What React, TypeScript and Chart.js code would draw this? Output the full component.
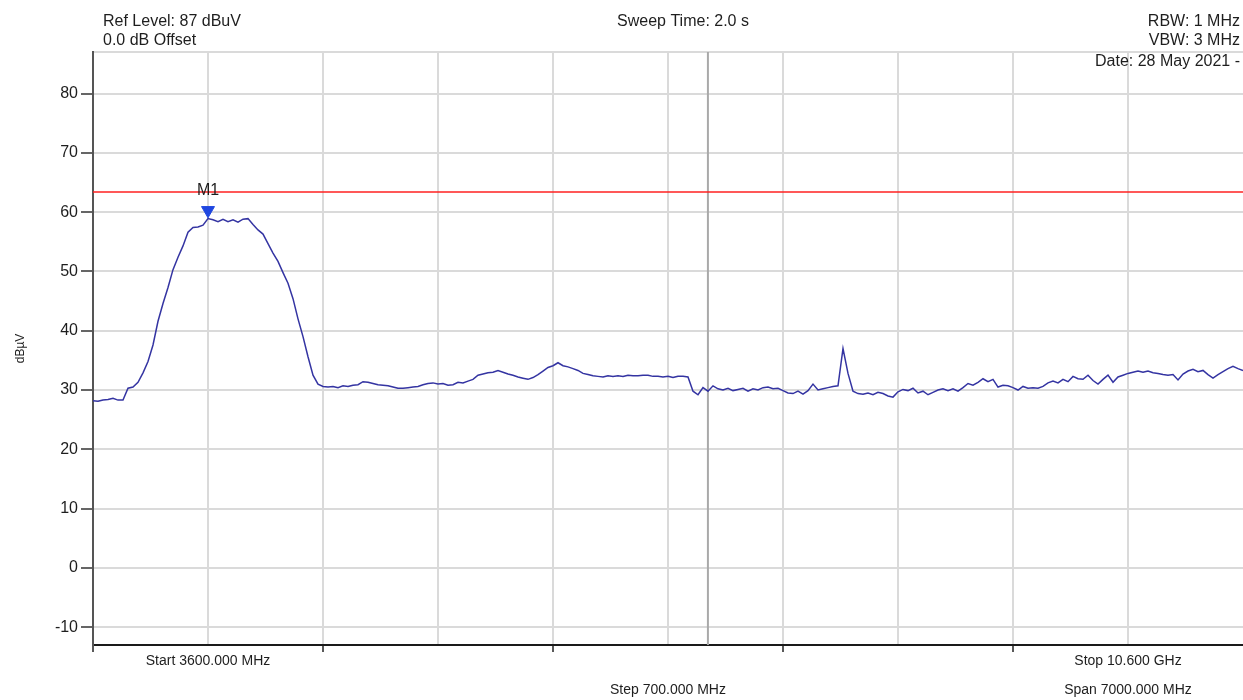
import React, { useEffect, useRef } from 'react';
import { Chart, registerables } from 'chart.js';

Chart.register(...registerables);

// ---- Data ----
const START_MHZ = 3600;
const STOP_MHZ = 10600;
const STEP_MHZ = 700;
const REF_LEVEL = 87;
const BOTTOM_LEVEL = -13;
const Y_TICKS = [80, 70, 60, 50, 40, 30, 20, 10, 0, -10];

// Trace level (dBµV) at evenly spaced sweep points from START to STOP
const TRACE_LEVELS = [
  28.2, 28.1, 28.3, 28.4, 28.6, 28.3, 28.3, 30.3, 30.5, 31.3,
  32.9, 34.8, 37.6, 41.6, 44.6, 47.3, 50.3, 52.4, 54.3, 56.6,
  57.4, 57.5, 57.8, 58.9, 58.7, 58.4, 58.8, 58.4, 58.7, 58.3,
  58.8, 58.9, 57.9, 57.0, 56.3, 54.7, 53.1, 51.7, 49.8, 48.0,
  45.4, 42.0, 39.0, 35.6, 32.5, 31.0, 30.6, 30.5, 30.6, 30.4,
  30.7, 30.6, 30.8, 30.9, 31.4, 31.3, 31.1, 30.9, 30.8, 30.7,
  30.5, 30.3, 30.3, 30.4, 30.5, 30.6, 30.9, 31.1, 31.2, 31.0,
  31.1, 30.8, 30.9, 31.3, 31.2, 31.5, 31.8, 32.5, 32.7, 32.9,
  33.0, 33.3, 33.0, 32.7, 32.5, 32.2, 32.0, 31.8, 32.1, 32.6,
  33.2, 33.8, 34.1, 34.6, 34.1, 33.9, 33.6, 33.3, 32.8, 32.6,
  32.4, 32.3, 32.2, 32.4, 32.3, 32.4, 32.3, 32.5, 32.4, 32.4,
  32.5, 32.5, 32.3, 32.3, 32.2, 32.3, 32.1, 32.3, 32.3, 32.2,
  29.8, 29.2, 30.4, 29.8, 30.7, 30.2, 30.0, 30.3, 29.9, 30.1,
  30.3, 29.8, 30.2, 30.0, 30.4, 30.5, 30.2, 30.3, 29.9, 29.5,
  29.4, 29.8, 29.3, 29.9, 31.0, 30.0, 30.2, 30.4, 30.6, 30.7,
  37.0, 32.8, 29.8, 29.4, 29.3, 29.5, 29.2, 29.6, 29.4, 29.0,
  28.8, 29.7, 30.1, 29.9, 30.3, 29.5, 29.8, 29.2, 29.6, 30.0,
  30.2, 29.9, 30.2, 29.8, 30.4, 31.1, 30.8, 31.3, 31.9, 31.4,
  31.8, 30.5, 30.8, 30.7, 30.4, 30.0, 30.6, 30.3, 30.4, 30.3,
  30.6, 31.2, 31.5, 31.2, 31.8, 31.4, 32.3, 31.9, 31.8, 32.5,
  31.6, 31.0, 31.8, 32.5, 31.3, 32.2, 32.5, 32.8, 33.0, 33.2,
  33.0, 33.2, 32.9, 32.8, 32.6, 32.5, 32.6, 31.7, 32.7, 33.2,
  33.5, 33.1, 33.3, 32.6, 32.0, 32.6, 33.1, 33.6, 34.0, 33.6,
  33.3,
];

const LIMIT_LEVEL = 63.4;
const MARKER_FREQ = 4300;
const MARKER_LEVEL = 60.3;
const MARKER_LABEL = 'M1';
const DISPLAY_LINE_FREQ = 7343;

const HEADER_LEFT = ['Ref Level: 87 dBuV', '0.0 dB Offset'];
const HEADER_CENTER = 'Sweep Time: 2.0 s';
const HEADER_RIGHT = ['RBW: 1 MHz', 'VBW: 3 MHz', 'Date: 28 May 2021 -'];
const FOOTER_ROW1 = ['Start 3600.000 MHz', 'Stop 10.600 GHz'];
const FOOTER_ROW1_FREQ = [4300, 9900];
const FOOTER_ROW2 = ['Step 700.000 MHz', 'Span 7000.000 MHz'];
const FOOTER_ROW2_FREQ = [7100, 9900];
const Y_TITLE = 'dBµV';

const FONT = '"Liberation Sans", Arial, sans-serif';
const CLEAR = 'rgba(0,0,0,0)';

const textPlugin = {
  id: 'analyzerText',
  afterDraw(chart: any) {
    const ctx = chart.ctx;
    const xs = chart.scales.x;
    const ys = chart.scales.y;
    ctx.save();
    ctx.fillStyle = '#1e1e1e';
    ctx.textBaseline = 'middle';
    ctx.font = `16px ${FONT}`;
    ctx.textAlign = 'left';
    ctx.fillText(HEADER_LEFT[0], 103, 22);
    ctx.fillText(HEADER_LEFT[1], 103, 41);
    ctx.textAlign = 'center';
    ctx.fillText(HEADER_CENTER, 683, 22);
    ctx.textAlign = 'right';
    ctx.fillText(HEADER_RIGHT[0], 1240, 22);
    ctx.fillText(HEADER_RIGHT[1], 1240, 41);
    ctx.fillText(HEADER_RIGHT[2], 1240, 62);

    ctx.font = `14px ${FONT}`;
    ctx.textAlign = 'center';
    FOOTER_ROW1.forEach((t, i) => ctx.fillText(t, xs.getPixelForValue(FOOTER_ROW1_FREQ[i]), 661));
    FOOTER_ROW2.forEach((t, i) => ctx.fillText(t, xs.getPixelForValue(FOOTER_ROW2_FREQ[i]), 690));

    ctx.font = `16px ${FONT}`;
    ctx.fillText(MARKER_LABEL, xs.getPixelForValue(MARKER_FREQ), ys.getPixelForValue(MARKER_LEVEL) - 20);
    ctx.restore();
  },
};

export default function App() {
  const ref = useRef<HTMLCanvasElement | null>(null);

  useEffect(() => {
    document.body.style.margin = '0';
    const n = TRACE_LEVELS.length;
    const trace = TRACE_LEVELS.map((v, i) => ({
      x: START_MHZ + (i * (STOP_MHZ - START_MHZ)) / (n - 1),
      y: v,
    }));
    const chart = new Chart(ref.current as HTMLCanvasElement, {
      type: 'line',
      data: {
        datasets: [
          {
            data: [
              { x: DISPLAY_LINE_FREQ, y: BOTTOM_LEVEL },
              { x: DISPLAY_LINE_FREQ, y: REF_LEVEL },
            ],
            borderColor: '#a9a9a9',
            borderWidth: 2,
            pointRadius: 0,
            order: 3,
          },
          {
            data: [
              { x: START_MHZ, y: LIMIT_LEVEL },
              { x: STOP_MHZ, y: LIMIT_LEVEL },
            ],
            borderColor: '#ff2020',
            borderWidth: 1.5,
            pointRadius: 0,
            order: 2,
          },
          {
            data: trace,
            borderColor: '#3434a2',
            borderWidth: 1.5,
            pointRadius: 0,
            tension: 0,
            order: 1,
          },
          {
            data: [{ x: MARKER_FREQ, y: MARKER_LEVEL }],
            showLine: false,
            pointStyle: 'triangle',
            rotation: 180,
            pointRadius: 7.5,
            pointBackgroundColor: '#1f47e0',
            pointBorderColor: '#1f47e0',
            pointBorderWidth: 1,
            order: 0,
          },
        ],
      },
      options: {
        animation: false,
        responsive: false,
        events: [],
        layout: { autoPadding: false, padding: { top: 52, left: 0, right: 0, bottom: 0 } },
        plugins: { legend: { display: false }, tooltip: { enabled: false } },
        scales: {
          x: {
            type: 'linear',
            min: START_MHZ,
            max: STOP_MHZ,
            ticks: { display: false, stepSize: STEP_MHZ },
            grid: {
              color: (c: any) => (c.tick && c.tick.value === STOP_MHZ ? CLEAR : '#dadada'),
              lineWidth: 2,
              drawTicks: true,
              tickLength: 7,
              tickWidth: 1.5,
              tickColor: (c: any) =>
                c.index % 2 === 0 && !(c.tick && c.tick.value === STOP_MHZ) ? '#222' : CLEAR,
            },
            border: { color: '#1a1a1a', width: 2 },
            afterFit: (s: any) => {
              s.height = 55;
            },
          },
          y: {
            type: 'linear',
            min: BOTTOM_LEVEL,
            max: REF_LEVEL,
            afterBuildTicks: (s: any) => {
              s.ticks = [...Y_TICKS.map((v) => ({ value: v })), { value: REF_LEVEL }];
            },
            ticks: {
              padding: 3,
              color: '#1e1e1e',
              font: { family: FONT, size: 16 },
              callback: (v: any) => (v === REF_LEVEL ? '' : String(v)),
            },
            grid: {
              color: '#dadada',
              lineWidth: 2,
              tickLength: 12,
              tickWidth: 1.5,
              tickColor: (c: any) => (c.tick && c.tick.value === REF_LEVEL ? CLEAR : '#333'),
            },
            border: { color: '#555', width: 2 },
            title: {
              display: true,
              text: Y_TITLE,
              color: '#1e1e1e',
              font: { family: FONT, size: 12 },
              padding: { top: 13, bottom: 0 },
            },
            afterFit: (s: any) => {
              s.width = 93;
            },
          },
        },
      },
      plugins: [textPlugin],
    });
    return () => chart.destroy();
  }, []);

  return <canvas ref={ref} width={1243} height={700} style={{ display: 'block' }} />;
}
